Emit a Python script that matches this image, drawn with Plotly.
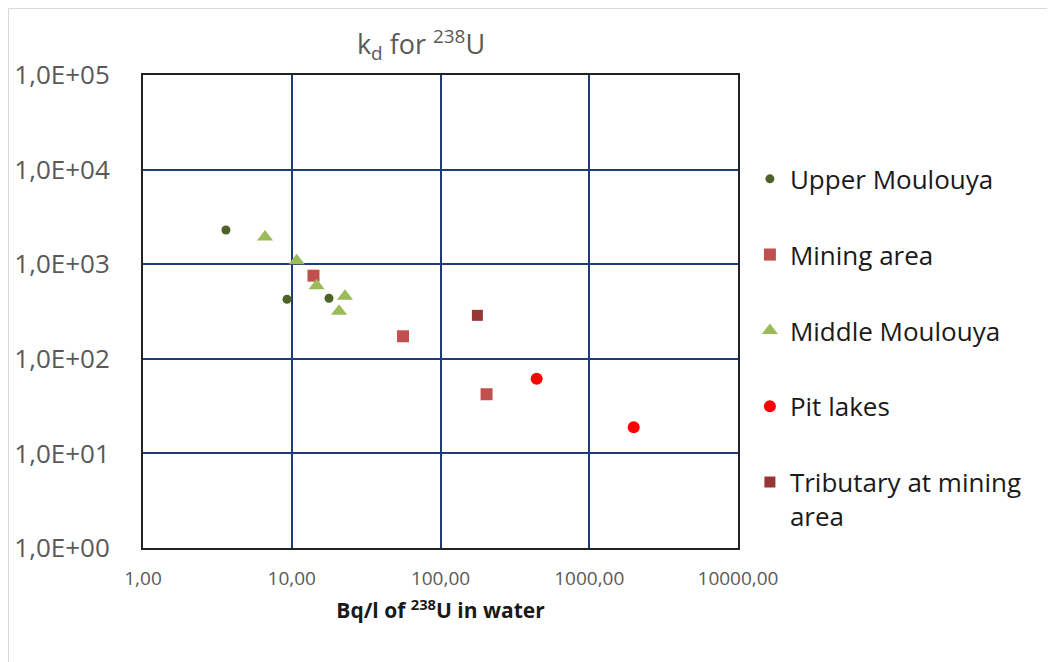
import plotly.graph_objects as go

# Data (x: Bq/l of 238U in water, y: kd)
upper_x = [3.61, 9.29, 17.8]
upper_y = [2300, 426, 436]
mining_x = [14.0, 56.0, 204]
mining_y = [756, 173, 42.2]
middle_x = [6.61, 10.8, 14.7, 22.8, 20.8]
middle_y = [1940, 1090, 593, 457, 318]
pit_x = [443, 1990]
pit_y = [61.6, 18.9]
trib_x = [177]
trib_y = [288]

x_tickvals = [1, 10, 100, 1000, 10000]
x_ticktext = ["1,00", "10,00", "100,00", "1000,00", "10000,00"]
y_tickvals = [1, 10, 100, 1000, 10000, 100000]
y_ticktext = ["1,0E+00", "1,0E+01", "1,0E+02", "1,0E+03", "1,0E+04", "1,0E+05"]

FONT = "Open Sans"
W, H = 1055, 662
ML, MR, MT, MB = 135, 325, 67, 122
PW = W - ML - MR
PH = H - MT - MB

fig = go.Figure()
series = [
    ("Upper Moulouya", upper_x, upper_y, "circle", 9, "#4F6228"),
    ("Mining area", mining_x, mining_y, "square", 12, "#C0504D"),
    ("Middle Moulouya", middle_x, middle_y, "triangle-up", 14, "#9BBB59"),
    ("Pit lakes", pit_x, pit_y, "circle", 12, "#FF0000"),
    ("Tributary at mining<br>area", trib_x, trib_y, "square", 11, "#953735"),
]
for i, (name, xs, ys, sym, size, col) in enumerate(series):
    fig.add_trace(go.Scatter(
        x=xs, y=ys, mode="markers", name=name, legendgroup=str(i),
        marker=dict(symbol=sym, size=size, color=col, line=dict(width=0)),
    ))

fig.update_layout(
    width=W, height=H,
    margin=dict(l=ML, r=MR, t=MT, b=MB, autoexpand=False),
    paper_bgcolor="white", plot_bgcolor="white",
    font=dict(family=FONT, color="#595959"),
    title=dict(text="k<sub>d</sub> for <sup>238</sup>U", x=413 / W, xanchor="center",
               y=1 - 37 / H, yanchor="middle",
               font=dict(size=27, color="#595959", family=FONT)),
    showlegend=True,
    legend=dict(x=1.02, xanchor="left", y=0.83, yanchor="top",
                font=dict(size=26, color="#1a1a1a", family=FONT),
                tracegroupgap=39, valign="top", itemsizing="trace",
                bgcolor="rgba(0,0,0,0)"),
    xaxis=dict(type="log", range=[0, 4], tickvals=x_tickvals, ticktext=x_ticktext,
               showgrid=True, gridcolor="#1F3A78", gridwidth=1.5,
               showline=True, linecolor="#222222", linewidth=2, mirror=True,
               ticks="", ticklabelstandoff=12, zeroline=False, automargin=False,
               tickfont=dict(size=19, color="#595959", family=FONT),
               title=dict(text="<b>Bq/l of <sup>238</sup>U in water</b>", standoff=14,
                          font=dict(size=21, color="#1a1a1a", family=FONT))),
    yaxis=dict(type="log", range=[0, 5], tickvals=y_tickvals, ticktext=y_ticktext,
               showgrid=True, gridcolor="#1F3A78", gridwidth=1.5,
               showline=True, linecolor="#222222", linewidth=2, mirror=True,
               ticks="", ticklabelstandoff=26, zeroline=False, automargin=False,
               tickfont=dict(size=26, color="#595959", family=FONT)),
)

# light outer frame lines (left and top edges of the chart area)
fx0 = (0.5 - ML) / PW
fy_top = (H - MB - 0.5) / PH
fy_bot = (H - MB - H) / PH
fx1 = (W - ML) / PW
fig.add_shape(type="line", xref="paper", yref="paper",
              x0=fx0, x1=fx0, y0=fy_bot, y1=fy_top,
              line=dict(color="#D9D9D9", width=1))
fig.add_shape(type="line", xref="paper", yref="paper",
              x0=fx0, x1=fx1, y0=fy_top, y1=fy_top,
              line=dict(color="#D9D9D9", width=1))

fig.write_html("out.html")
